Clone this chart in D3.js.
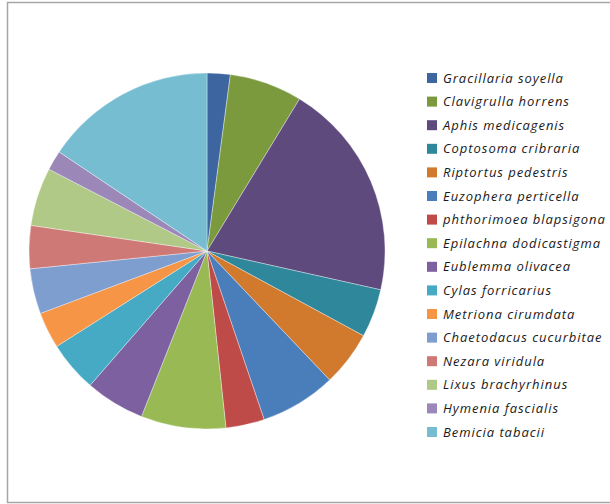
<!DOCTYPE html>
<html>
<head>
<meta charset="utf-8">
<script src="https://cdn.jsdelivr.net/npm/d3@7/dist/d3.min.js"></script>
<style>
  html, body { margin: 0; padding: 0; background: #fff; }
  svg { display: block; }
</style>
</head>
<body>
<div id="chart"></div>
<script>
// Share of each pest species (percent)
const species = [
  "Gracillaria soyella", "Clavigrulla horrens", "Aphis medicagenis", "Coptosoma cribraria",
  "Riptortus pedestris", "Euzophera perticella", "phthorimoea blapsigona", "Epilachna dodicastigma",
  "Eublemma olivacea", "Cylas forricarius", "Metriona cirumdata", "Chaetodacus cucurbitae",
  "Nezara viridula", "Lixus brachyrhinus", "Hymenia fascialis", "Bemicia tabacii"
];
const shares = [2.1, 6.6, 19.8, 4.4, 5.0, 6.9, 3.5, 7.7, 5.4, 4.6, 3.3, 4.1, 3.9, 5.3, 1.8, 15.6];
const sliceColors = [
  "#3d66a1", "#7a9a3d", "#5f4a7e", "#2f879c", "#d17a2e", "#4a7ebb", "#be4b48", "#98b954",
  "#7d60a0", "#46aac5", "#f69546", "#7d9ecf", "#cf7977", "#b0c987", "#9b87b8", "#77bdd2"
];

const W = 610, H = 504;
const svg = d3.select("#chart").append("svg").attr("width", W).attr("height", H);

// chart area frame
svg.append("path")
  .attr("d", `M${W + 2},2.5 H7.5 V502.5 H${W + 2}`)
  .attr("fill", "none").attr("stroke", "#a6a6a6").attr("stroke-width", 1.5);

const cx = 207, cy = 251, r = 178;
const pie = d3.pie().sort(null).value(d => d.v);
const arc = d3.arc().innerRadius(0).outerRadius(r);
const data = species.map((s, i) => ({ name: s, v: shares[i], color: sliceColors[i] }));

svg.append("g").attr("transform", `translate(${cx},${cy})`)
  .selectAll("path").data(pie(data)).join("path")
  .attr("d", arc)
  .attr("fill", d => d.data.color)
  .attr("stroke", "#ffffff").attr("stroke-opacity", 0.6).attr("stroke-width", 0.6);

// legend
const lx = 427, ly0 = 78, step = 23.6;
const leg = svg.append("g");
const items = leg.selectAll("g").data(data).join("g")
  .attr("transform", (d, i) => `translate(${lx},${ly0 + i * step})`);
items.append("rect").attr("x", 0).attr("y", -5).attr("width", 10).attr("height", 10)
  .attr("fill", d => d.color);
items.append("text").attr("x", 16).attr("y", 0).attr("dy", "0.35em")
  .attr("font-family", "'Open Sans', sans-serif")
  .attr("font-style", "italic").attr("font-size", 13).attr("letter-spacing", 0.95)
  .attr("fill", "#1a1a1a")
  .text(d => d.name);
</script>
</body>
</html>
